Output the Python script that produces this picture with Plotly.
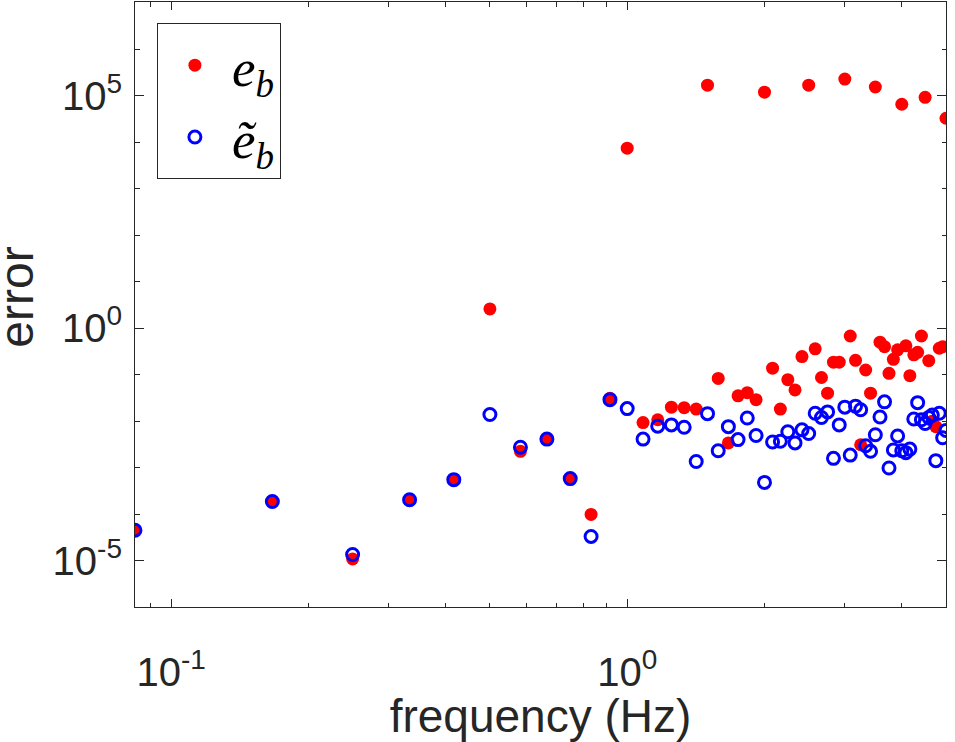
import plotly.graph_objects as go

# frequencies (Hz)
freq = [0.0833, 0.1667, 0.25, 0.3333, 0.4167, 0.5, 0.5833, 0.6667, 0.75, 0.8333,
        0.9167, 1.0, 1.0833, 1.1667, 1.25, 1.3333, 1.4167, 1.5, 1.5833, 1.6667,
        1.75, 1.8333, 1.9167, 2.0, 2.0833, 2.1667, 2.25, 2.3333, 2.4167, 2.5,
        2.5833, 2.6667, 2.75, 2.8333, 2.9167, 3.0, 3.0833, 3.1667, 3.25, 3.3333,
        3.4167, 3.5, 3.5833, 3.6667, 3.75, 3.8333, 3.9167, 4.0, 4.0833, 4.1667,
        4.25, 4.3333, 4.4167, 4.5, 4.5833, 4.6667, 4.75, 4.8333, 4.9167, 5.0]

# e_b (red filled)
err_eb = [4.5e-5, 1.86e-4, 1.08e-5, 2.0e-4, 5.4e-4, 2.6, 2.24e-3, 4.1e-3, 5.8e-4, 9.8e-5,
          3.1e-2, 7500, 9.3e-3, 1.07e-2, 2.0e-2, 1.95e-2, 1.82e-2, 1.7e5, 8.3e-2, 3.4e-3,
          3.5e-2, 4.1e-2, 2.9e-2, 1.2e5, 0.138, 1.82e-2, 7.8e-2, 4.7e-2, 0.245, 1.7e5,
          0.36, 8.7e-2, 4.0e-2, 0.186, 0.186, 2.3e5, 0.68, 0.204, 3.1e-3, 0.126,
          4.0e-2, 1.55e5, 0.50, 0.40, 0.107, 0.214, 0.342, 6.6e4, 0.417, 9.5e-2,
          0.267, 0.302, 0.68, 9.3e4, 0.20, 1.0e-2, 7.6e-3, 0.37, 0.40, 3.3e4]

# tilde e_b (blue open)
err_teb = [4.5e-5, 1.86e-4, 1.35e-5, 2.04e-4, 5.5e-4, 1.39e-2, 2.75e-3, 4.1e-3, 5.8e-4, 3.3e-5,
           2.9e-2, 1.86e-2, 4.1e-3, 7.8e-3, 8.3e-3, 7.4e-3, 1.35e-3, 1.45e-2, 2.3e-3, 7.6e-3,
           4.0e-3, 1.17e-2, 4.9e-3, 4.8e-4, 3.55e-3, 3.7e-3, 5.9e-3, 3.4e-3, 6.5e-3, 5.4e-3,
           1.48e-2, 1.2e-2, 1.58e-2, 1.58e-3, 8.3e-3, 2.0e-2, 1.86e-3, 2.1e-2, 1.76e-2, 2.95e-3,
           2.24e-3, 5.1e-3, 1.23e-2, 2.6e-2, 9.8e-4, 2.4e-3, 4.8e-3, 2.3e-3, 2.1e-3, 2.5e-3,
           1.11e-2, 2.5e-2, 1.07e-2, 8.9e-3, 1.2e-2, 1.35e-2, 1.41e-3, 1.48e-2, 4.4e-3, 6.3e-3]

x_tickvals = [0.1, 1]
x_ticktext = ["10<sup>-1</sup>", "10<sup>0</sup>"]
x_minor = [0.09, 0.2, 0.3, 0.4, 0.5, 0.6, 0.7, 0.8, 0.9, 2, 3, 4, 5]
y_tickvals = [1e-5, 1, 1e5]
y_ticktext = ["10<sup>-5</sup>", "10<sup>0</sup>", "10<sup>5</sup>"]
y_minor = [1e-6, 1e-4, 1e-3, 1e-2, 1e-1, 1e1, 1e2, 1e3, 1e4, 1e6, 1e7]

AX = "#262626"
FONT = "Liberation Sans, Arial, Helvetica, sans-serif"

fig = go.Figure()
fig.add_trace(go.Scatter(
    x=freq, y=err_eb, mode="markers", name="<i>e<sub>b</sub></i>",
    marker=dict(symbol="circle", size=13, color="#ff0000", line=dict(width=0)),
))
fig.add_trace(go.Scatter(
    x=freq, y=err_teb, mode="markers", name="<i>ẽ<sub>b</sub></i>",
    marker=dict(symbol="circle-open", size=12, color="#0000ff", line=dict(width=3, color="#0000ff")),
))

axis_common = dict(
    showline=True, linecolor=AX, linewidth=1, mirror="ticks",
    ticks="inside", tickcolor=AX, tickwidth=1,
    showgrid=False, zeroline=False, automargin=False,
    tickfont=dict(family=FONT, size=40, color=AX),
)

fig.update_layout(
    width=955, height=742,
    margin=dict(l=135, r=9, t=2, b=135),
    paper_bgcolor="white", plot_bgcolor="white",
    font=dict(family=FONT, color=AX),
    showlegend=True,
    legend=dict(
        x=0.027, y=0.965, xanchor="left", yanchor="top",
        bgcolor="white", bordercolor=AX, borderwidth=1,
        font=dict(family="Liberation Serif, Times New Roman, serif", size=53, color="black"),
        itemwidth=64,
    ),
    xaxis=dict(
        type="log", range=[-1.0792, 0.699],
        tickmode="array", tickvals=x_tickvals, ticktext=x_ticktext, ticklen=8,
        minor=dict(tickmode="array", tickvals=x_minor, ticks="inside", ticklen=4.5, tickcolor=AX),
        title=dict(text="frequency (Hz)", font=dict(family=FONT, size=46, color=AX), standoff=2),
        ticklabelstandoff=30,
        **axis_common,
    ),
    yaxis=dict(
        type="log", range=[-6, 7.02],
        tickmode="array", tickvals=y_tickvals, ticktext=y_ticktext, ticklen=9,
        minor=dict(tickmode="array", tickvals=y_minor, ticks="inside", ticklen=4.5, tickcolor=AX),
        ticklabelstandoff=4,
        **axis_common,
    ),
    annotations=[dict(
        text="error", textangle=-90, showarrow=False,
        xref="paper", yref="paper", x=-0.1455, y=0.513,
        xanchor="center", yanchor="middle",
        font=dict(family=FONT, size=48, color=AX),
    )],
)

fig.write_html("out.html")
